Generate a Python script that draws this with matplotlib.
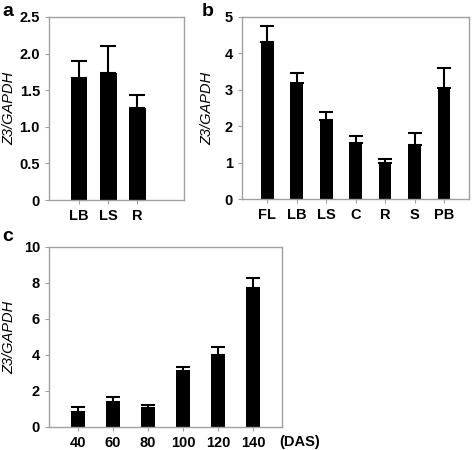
import matplotlib.pyplot as plt

plt.rcParams['font.family'] = ['Liberation Sans', 'DejaVu Sans']

# panel a
a_labels = ["LB", "LS", "R"]
a_vals = [1.67, 1.74, 1.25]
a_err = [0.23, 0.36, 0.18]

# panel b
b_labels = ["FL", "LB", "LS", "C", "R", "S", "PB"]
b_vals = [4.31, 3.20, 2.18, 1.55, 0.98, 1.48, 3.06]
b_err = [0.43, 0.26, 0.21, 0.19, 0.13, 0.32, 0.54]

# panel c
c_labels = ["40", "60", "80", "100", "120", "140"]
c_vals = [0.83, 1.37, 1.03, 3.13, 4.02, 7.74]
c_err = [0.26, 0.28, 0.17, 0.18, 0.44, 0.56]

W, H = 472, 450
fig = plt.figure(figsize=(W / 100, H / 100), dpi=100)

def px_axes(l, t, r, b):
    return fig.add_axes([l / W, 1 - b / H, (r - l) / W, (b - t) / H])

def style(ax, ylim, yticks, yfmt):
    for s in ax.spines.values():
        s.set_color("#a0a0a0")
        s.set_linewidth(1.0)
    ax.set_ylim(*ylim)
    ax.set_yticks(yticks)
    ax.set_yticklabels([yfmt(v) for v in yticks])
    ax.tick_params(axis="both", colors="#a0a0a0", length=3, width=0.8,
                   labelcolor="black", labelsize=10.5)
    for lab in ax.get_xticklabels() + ax.get_yticklabels():
        lab.set_fontweight("bold")
    ax.set_ylabel("Z3/GAPDH", fontstyle="italic", fontsize=10.5)

def bars(ax, labels, vals, errs, width, cap):
    x = list(range(len(labels)))
    ax.bar(x, vals, width=width, color="black", zorder=2)
    ax.errorbar(x, vals, yerr=[[0] * len(errs), errs], fmt="none",
                ecolor="black", elinewidth=1.5, capsize=cap, capthick=1.5, zorder=3)
    ax.set_xticks(x)
    ax.set_xticklabels(labels)

# a
ax1 = px_axes(49, 17, 184, 200)
bars(ax1, a_labels, a_vals, a_err, 0.57, 6.1)
ax1.set_xlim(-1.02, 3.59)
style(ax1, (0, 2.5), [0, 0.5, 1.0, 1.5, 2.0, 2.5],
      lambda v: "0" if v == 0 else f"{v:.1f}")
ax1.yaxis.set_label_coords(-0.245, 0.5)

# b
ax2 = px_axes(242, 17, 469, 199)
bars(ax2, b_labels, b_vals, b_err, 0.43, 4.7)
ax2.set_xlim(-0.86, 6.85)
style(ax2, (0, 5), [0, 1, 2, 3, 4, 5], lambda v: f"{v:g}")
ax2.yaxis.set_label_coords(-0.12, 0.5)

# c
ax3 = px_axes(49, 247, 282, 427)
bars(ax3, c_labels, c_vals, c_err, 0.40, 5.0)
ax3.set_xlim(-0.83, 5.83)
style(ax3, (0, 10), [0, 2, 4, 6, 8, 10], lambda v: f"{v:g}")
ax3.yaxis.set_label_coords(-0.142, 0.5)
fig.text(279 / W, 1 - 442 / H, "(DAS)", fontsize=10.5, fontweight="bold",
         ha="left", va="center")

# panel letters
fig.text(2 / W, 1 - 11 / H, "a", fontsize=14, fontweight="bold", va="center")
fig.text(202 / W, 1 - 11 / H, "b", fontsize=14, fontweight="bold", va="center")
fig.text(2 / W, 1 - 236 / H, "c", fontsize=14, fontweight="bold", va="center")

fig.savefig("out.png", dpi=100)
